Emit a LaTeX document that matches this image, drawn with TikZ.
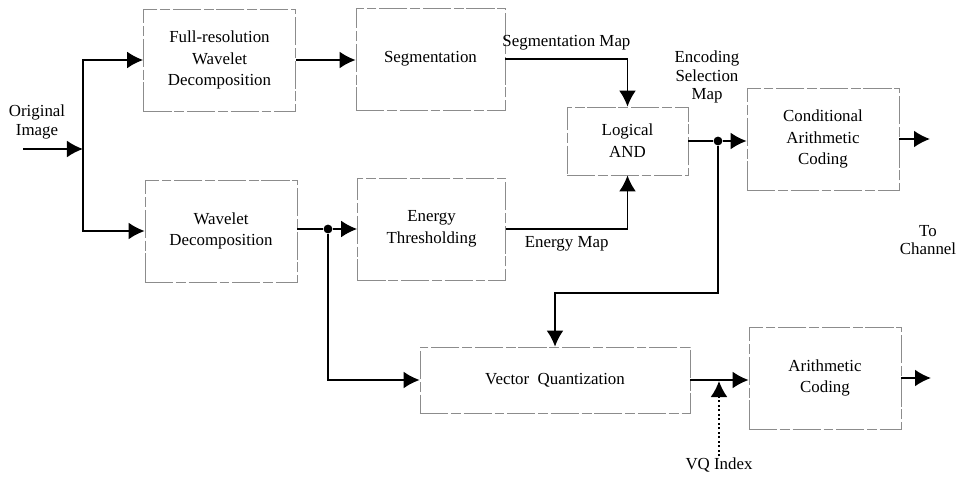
\documentclass[tikz,border=0pt]{standalone}
\usepackage{fontspec}
\setmainfont{Liberation Serif}
\usetikzlibrary{arrows.meta}

\tikzset{
  block/.style={draw=black!45, line width=0.5pt,
    dash pattern=on 20pt off 2pt on 7pt off 2pt,
    align=center, font=\rmfamily\fontsize{12}{15.5}\selectfont,
    minimum width=3.8cm, minimum height=2.55cm},
  lbl/.style={align=center, font=\rmfamily\fontsize{12}{13}\selectfont, inner sep=1pt},
  flow/.style={-{Latex[length=0.4cm,width=0.42cm]}, line width=1.2pt},
  wire/.style={line width=1.2pt},
  jdot/.style={circle, fill, inner sep=0pt, minimum size=0.22cm},
}

\begin{document}
\begin{tikzpicture}[x=0.025cm,y=-0.025cm]
    \useasboundingbox (0,0) rectangle (973,478);

    % blocks
    \node[block] (FRWD) at (219.5,60) {Full-resolution\\Wavelet\\Decomposition};
    \node[block, minimum width=3.725cm] (Seg) at (430.5,59) {Segmentation};
    \node[block] (WD) at (221,231) {Wavelet\\Decomposition};
    \node[block, minimum width=3.7cm] (ET) at (431.5,229) {Energy\\Thresholding};
    \node[block, minimum width=3.025cm, minimum height=1.7cm] (AND) at (627.5,141) {Logical\\AND};
    \node[block] (CAC) at (823,139) {Conditional\\Arithmetic\\Coding};
    \node[block, minimum width=6.75cm, minimum height=1.65cm] (VQ) at (555,380) {Vector\enspace Quantization};
    \node[block] (AC) at (825,378) {Arithmetic\\Coding};

    % labels
    \node[lbl] (orig) at (37,122) {Original\\Image};
    \node[lbl] (esmap) at (707,77) {Encoding\\Selection\\Map};
    \node[lbl] (chan) at (928,240) {To\\Channel};
    \node[lbl] (vqi) at (719,465) {VQ Index};

    % junctions and free ends
    \coordinate (in) at (23,149);
    \coordinate (split) at (83,149);
    \node[jdot] (wdsplit) at (328,229) {};
    \node[jdot] (esmsplit) at (718,141) {};
    \coordinate (turn) at (718,293);
    \coordinate (out1) at (930,139);
    \coordinate (out2) at (931,378);
    \coordinate (vqtip) at (719,381);

    \draw[flow] (in) -- (split);
    \draw[wire] (split |- FRWD) -- (split |- WD);
    \draw[flow] (split) |- (FRWD);
    \draw[flow] (split) |- (WD);
    \draw[flow] (FRWD.east) -- (Seg.west |- FRWD.east);
    \draw[flow] (Seg.east) -| node[pos=0.25, above=5pt, lbl] {Segmentation Map} (AND.north);
    \draw[flow] (ET.east) -| node[pos=0.25, below=4pt, lbl] {Energy Map} (AND.south);
    \draw[wire] (WD.east |- wdsplit) -- (wdsplit);
    \draw[flow] (wdsplit) -- (ET.west |- wdsplit);
    \draw[flow] (wdsplit) |- (VQ);
    \draw[wire] (AND.east |- esmsplit) -- (esmsplit);
    \draw[flow] (esmsplit) -- (CAC.west |- esmsplit);
    \draw[flow] (esmsplit) -- (turn) -| (VQ.north);
    \draw[flow] (CAC.east) -- (out1);
    \draw[flow] (VQ.east) -- (AC.west |- VQ.east);
    \draw[flow] (AC.east) -- (out2);
    \draw[flow, dotted] (vqi.north) -- (vqtip);
\end{tikzpicture}
\end{document}
